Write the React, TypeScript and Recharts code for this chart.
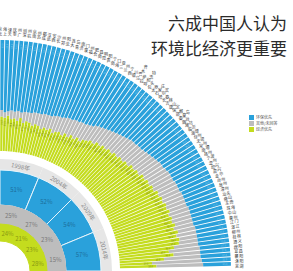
import React from "react"
import {
  RadialBarChart,
  RadialBar,
  PolarAngleAxis,
  PolarRadiusAxis,
  LabelList,
  PieChart,
  Pie,
} from "recharts"

const W = 293
const H = 271
const CX = 0
const CY = 271
const RAD = Math.PI / 180

// outer ring: cities, share of answers in %
const CITIES = [
  "北京", "上海", "天津", "重庆", "广州", "深圳", "杭州", "南京", "苏州", "成都",
  "武汉", "西安", "长沙", "郑州", "沈阳", "大连", "青岛", "济南", "厦门", "福州",
  "合肥", "南昌", "昆明", "贵阳", "南宁", "海口", "三亚", "兰州", "西宁", "银川",
  "乌鲁木齐", "拉萨", "呼和浩特", "包头", "太原", "石家庄", "哈尔滨", "长春", "吉林", "唐山",
  "保定", "邯郸", "秦皇岛", "烟台", "潍坊", "临沂", "淄博", "徐州", "无锡", "常州",
  "南通", "扬州", "宁波", "温州", "绍兴", "嘉兴", "金华", "台州", "泉州", "漳州",
  "汕头", "佛山", "东莞", "珠海", "中山", "惠州", "江门", "湛江", "柳州", "桂林",
  "遵义", "绵阳", "宜昌", "襄阳", "洛阳", "芜湖",
]

const ECON = [
  40, 31, 30, 32, 29, 30, 28, 31, 27, 29,
  28, 26, 28, 27, 25, 27, 26, 28, 25, 27,
  28, 26, 29, 27, 30, 28, 31, 29, 32, 33,
  35, 34, 37, 36, 38, 37, 39, 38, 40, 39,
  41, 40, 42, 41, 44, 43, 45, 44, 47, 46,
  48, 47, 49, 48, 51, 50, 52, 51, 53, 52,
  54, 52, 54, 53, 55, 53, 56, 54, 56, 55,
  50, 45, 49, 40, 29, 33,
]

const OTHER = [
  14, 6, 5, 4, 8, 6, 9, 5, 10, 8,
  9, 12, 10, 11, 14, 12, 13, 12, 16, 14,
  14, 17, 14, 17, 14, 17, 14, 17, 15, 16,
  15, 17, 15, 17, 16, 18, 17, 19, 18, 20,
  18, 20, 18, 20, 18, 20, 19, 21, 19, 20,
  19, 21, 19, 20, 18, 19, 17, 19, 17, 18,
  16, 19, 17, 18, 16, 18, 16, 18, 16, 17,
  22, 28, 24, 33, 45, 42,
]

const ENV = [
  46, 63, 65, 64, 63, 64, 63, 64, 63, 63,
  63, 62, 62, 62, 61, 61, 61, 60, 59, 59,
  58, 57, 57, 56, 56, 55, 55, 54, 53, 51,
  50, 49, 48, 47, 46, 45, 44, 43, 42, 41,
  41, 40, 40, 39, 38, 37, 36, 35, 34, 34,
  33, 32, 32, 32, 31, 31, 31, 30, 30, 30,
  30, 29, 29, 29, 29, 29, 28, 28, 28, 28,
  28, 27, 27, 27, 26, 25,
]

// inner rings: survey years
const YEARS = ["1998年", "2004年", "2009年", "2014年"]
const YEAR_ENV = [51, 52, 54, 57]
const YEAR_OTHER = [25, 27, 23, 15]
const YEAR_ECON = [24, 21, 23, 28]

const BLUE = "#2aa1db"
const GRAY = "#bdbdbd"
const GREEN = "#c4dc1e"

const SERIES = [
  { key: "env", name: "环保优先", color: BLUE },
  { key: "other", name: "其他/未回答", color: GRAY },
  { key: "econ", name: "经济优先", color: GREEN },
]

const cityData = CITIES.map((city, i) => ({
  city,
  econ: ECON[i],
  other: OTHER[i],
  env: ENV[i],
}))

const yearData = YEARS.map((year, i) => ({
  year,
  env: YEAR_ENV[i],
  other: YEAR_OTHER[i],
  econ: YEAR_ECON[i],
  span: 1,
}))

// city names written outward, one upright glyph after another
function CityTick(props: any) {
  const angle = props.payload.coordinate
  const chars = String(props.payload.value).split("")
  const c = Math.cos(angle * RAD)
  const s = Math.sin(angle * RAD)
  return (
    <g>
      {chars.map((ch, k) => {
        const r = 237 + k * 4.6
        return (
          <text
            key={k}
            x={CX + r * c}
            y={CY - r * s}
            textAnchor="middle"
            dominantBaseline="central"
            fontSize={4}
            fill="#333"
          >
            {ch}
          </text>
        )
      })}
    </g>
  )
}

// tiny value text along each bar, near the outer end of the piece
const valueLabel = (color: string, inset: number) => (props: any) => {
  const vb = props.viewBox
  if (!vb || vb.startAngle == null || vb.outerRadius == null) return null
  const mid = (vb.startAngle + vb.endAngle) / 2
  const r = vb.outerRadius - inset
  const x = vb.cx + r * Math.cos(mid * RAD)
  const y = vb.cy - r * Math.sin(mid * RAD)
  return (
    <text
      x={x}
      y={y}
      textAnchor="middle"
      dominantBaseline="central"
      fontSize={2.4}
      fill={color}
      transform={`rotate(${-mid} ${x} ${y})`}
    >
      {Number(props.value).toFixed(1)}
    </text>
  )
}

const ringLabel = (key: string, color: string) => (p: any) => {
  const r = (p.innerRadius + p.outerRadius) / 2
  const x = p.cx + r * Math.cos(-p.midAngle * RAD)
  const y = p.cy + r * Math.sin(-p.midAngle * RAD)
  const v = p.payload?.[key] ?? p[key]
  return (
    <text x={x} y={y} textAnchor="middle" dominantBaseline="central" fontSize={6} fill={color}>
      {v}%
    </text>
  )
}

const yearLabel = (p: any) => {
  const r = (p.innerRadius + p.outerRadius) / 2
  const x = p.cx + r * Math.cos(-p.midAngle * RAD)
  const y = p.cy + r * Math.sin(-p.midAngle * RAD)
  return (
    <text
      x={x}
      y={y}
      textAnchor="middle"
      dominantBaseline="central"
      fontSize={6}
      fill="#8a8a8a"
      transform={`rotate(${90 - p.midAngle} ${x} ${y})`}
    >
      {p.payload?.year ?? p.year}
    </text>
  )
}

export default function App() {
  return (
    <div
      style={{
        position: "absolute",
        left: 0,
        top: 0,
        width: W,
        height: H,
        background: "#fff",
        overflow: "hidden",
        fontFamily: "'Noto Sans CJK SC', 'Noto Sans', sans-serif",
      }}
    >
      <div style={{ position: "absolute", left: 0, top: 0 }}>
        <PieChart width={W} height={H} margin={{ top: 0, right: 0, bottom: 0, left: 0 }}>
          <Pie
            data={yearData}
            dataKey="span"
            cx={CX}
            cy={CY}
            startAngle={90}
            endAngle={0}
            innerRadius={101}
            outerRadius={112}
            fill="#e6e6e6"
            stroke="none"
            label={yearLabel}
            labelLine={false}
            isAnimationActive={false}
          />
          <Pie
            data={yearData}
            dataKey="span"
            cx={CX}
            cy={CY}
            startAngle={90}
            endAngle={0}
            innerRadius={66}
            outerRadius={101}
            fill={BLUE}
            stroke="#e8f4fb"
            strokeWidth={1}
            label={ringLabel("env", "#1d6f9c")}
            labelLine={false}
            isAnimationActive={false}
          />
          <Pie
            data={yearData}
            dataKey="span"
            cx={CX}
            cy={CY}
            startAngle={90}
            endAngle={0}
            innerRadius={47}
            outerRadius={66}
            fill={GRAY}
            stroke={GRAY}
            label={ringLabel("other", "#7a7a7a")}
            labelLine={false}
            isAnimationActive={false}
          />
          <Pie
            data={yearData}
            dataKey="span"
            cx={CX}
            cy={CY}
            startAngle={90}
            endAngle={0}
            innerRadius={30}
            outerRadius={47}
            fill={GREEN}
            stroke={GREEN}
            label={ringLabel("econ", "#8b9a12")}
            labelLine={false}
            isAnimationActive={false}
          />
        </PieChart>
      </div>

      <div style={{ position: "absolute", left: 0, top: 0 }}>
        <RadialBarChart
          width={W}
          height={H}
          data={cityData}
          layout="centric"
          cx={CX}
          cy={CY}
          startAngle={90}
          endAngle={0}
          innerRadius={120}
          outerRadius={231}
          margin={{ top: 0, right: 0, bottom: 0, left: 0 }}
        >
          <PolarAngleAxis
            type="category"
            dataKey="city"
            axisLine={false}
            tickLine={false}
            tick={CityTick}
          />
          <PolarRadiusAxis type="number" domain={[0, 100]} tick={false} axisLine={false} />
          <RadialBar dataKey="econ" stackId="a" fill={GREEN} isAnimationActive={false}>
            <LabelList dataKey="econ" content={valueLabel("#6f7d10", 6)} />
          </RadialBar>
          <RadialBar dataKey="other" stackId="a" fill={GRAY} isAnimationActive={false} />
          <RadialBar dataKey="env" stackId="a" fill={BLUE} isAnimationActive={false}>
            <LabelList dataKey="env" content={valueLabel("#86c9ec", 6)} />
          </RadialBar>
        </RadialBarChart>
      </div>

      <div
        style={{
          position: "absolute",
          right: 6,
          top: 10,
          textAlign: "right",
          fontSize: 17,
          lineHeight: "25px",
          color: "#2b2b2b",
          whiteSpace: "nowrap",
        }}
      >
        <div>六成中国人认为</div>
        <div>环境比经济更重要</div>
      </div>

      <div style={{ position: "absolute", left: 249, top: 114 }}>
        {SERIES.map((s) => (
          <div key={s.key} style={{ display: "flex", alignItems: "center", height: 6 }}>
            <span style={{ width: 5, height: 5, background: s.color, display: "inline-block" }} />
            <span style={{ fontSize: 4, marginLeft: 2, color: "#555", lineHeight: "5px" }}>{s.name}</span>
          </div>
        ))}
      </div>
    </div>
  )
}
